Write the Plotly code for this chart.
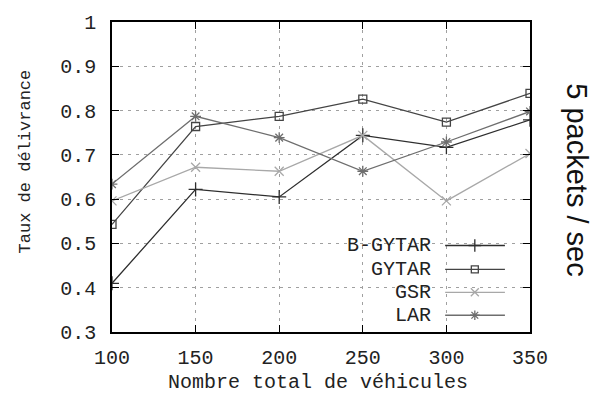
import plotly.graph_objects as go

vehicles = [100, 150, 200, 250, 300, 350]
b_gytar = [0.410, 0.622, 0.605, 0.744, 0.717, 0.779]
gytar = [0.543, 0.764, 0.787, 0.826, 0.774, 0.839]
gsr = [0.596, 0.672, 0.663, 0.744, 0.596, 0.703]
lar = [0.634, 0.787, 0.739, 0.663, 0.729, 0.798]

names = ["B-GYTAR", "GYTAR", "GSR", "LAR"]
series = [b_gytar, gytar, gsr, lar]
colors = ["#2e2e2e", "#444444", "#a8a8a8", "#6e6e6e"]
symbols = ["cross-thin-open", "square-open", "x-thin-open", "asterisk-open"]
msizes = [10, 8, 9, 9]

y_ticks = [0.3, 0.4, 0.5, 0.6, 0.7, 0.8, 0.9, 1.0]
y_ticktext = ["0.3", "0.4", "0.5", "0.6", "0.7", "0.8", "0.9", "1"]
x_ticks = [100, 150, 200, 250, 300, 350]

MONO = "Liberation Mono"
FS = 20

fig = go.Figure()
for name, ys, c, s, ms in zip(names, series, colors, symbols, msizes):
    fig.add_trace(go.Scatter(
        x=vehicles, y=ys, mode="lines+markers", name=name,
        line=dict(color=c, width=1.3),
        marker=dict(symbol=s, size=ms, color=c, line=dict(color=c, width=1.3)),
        showlegend=False,
    ))

# custom gnuplot-style legend (text left, sample right)
leg_rows = [0.279, 0.202, 0.128, 0.054]
for name, c, s, ms, yr in zip(names, colors, symbols, msizes, leg_rows):
    fig.add_trace(go.Scatter(
        x=[0.797, 0.868, 0.940], y=[yr, yr, yr], xaxis="x2", yaxis="y2",
        mode="lines", line=dict(color=c, width=1.3), showlegend=False,
        hoverinfo="skip"))
    fig.add_trace(go.Scatter(
        x=[0.868], y=[yr], xaxis="x2", yaxis="y2", mode="markers",
        marker=dict(symbol=s, size=ms - 1, color=c, line=dict(color=c, width=1.3)),
        showlegend=False, hoverinfo="skip"))
    fig.add_annotation(x=0.768, y=yr, xref="paper", yref="paper", text=name,
                       showarrow=False, xanchor="right", yanchor="middle",
                       font=dict(family=MONO, size=FS, color="#222"))

fig.add_shape(type="rect", xref="paper", yref="paper", x0=0.545, x1=0.957,
              y0=0.016, y1=0.317, fillcolor="white", line=dict(width=0),
              layer="between")

axis_common = dict(
    showline=True, linecolor="black", linewidth=1.5, mirror="ticks",
    ticks="inside", ticklen=7, tickwidth=1.3, tickcolor="black",
    showgrid=True, gridcolor="#a0a0a0", gridwidth=1, griddash="3px,5px",
    zeroline=False, tickfont=dict(family=MONO, size=FS, color="#222"),
)

fig.update_layout(
    width=593, height=402,
    margin=dict(l=112, r=63, t=20, b=70),
    plot_bgcolor="white", paper_bgcolor="white",
    xaxis=dict(range=[100, 350], tickvals=x_ticks, ticklabelstandoff=6, **axis_common),
    yaxis=dict(range=[0.3, 1.0], tickvals=y_ticks, ticktext=y_ticktext,
               ticklabelstandoff=10, **axis_common),
    xaxis2=dict(range=[0, 1], overlaying="x", visible=False),
    yaxis2=dict(range=[0, 1], overlaying="y", visible=False),
)

fig.add_annotation(x=0.493, y=-0.163, xref="paper", yref="paper",
                   xanchor="center", yanchor="middle", showarrow=False,
                   text="Nombre total de véhicules",
                   font=dict(family=MONO, size=FS, color="#222"))
fig.add_annotation(x=-0.206, y=0.55, xref="paper", yref="paper", showarrow=False,
                   text="Taux de délivrance", textangle=-90,
                   xanchor="center", yanchor="middle",
                   font=dict(family=MONO, size=17, color="#222"))
fig.add_annotation(x=1.112, y=0.49, xref="paper", yref="paper", showarrow=False,
                   text="5 packets / sec", textangle=90,
                   xanchor="center", yanchor="middle",
                   font=dict(family="Liberation Sans", size=29, color="#111"))

fig.write_html("out.html")
